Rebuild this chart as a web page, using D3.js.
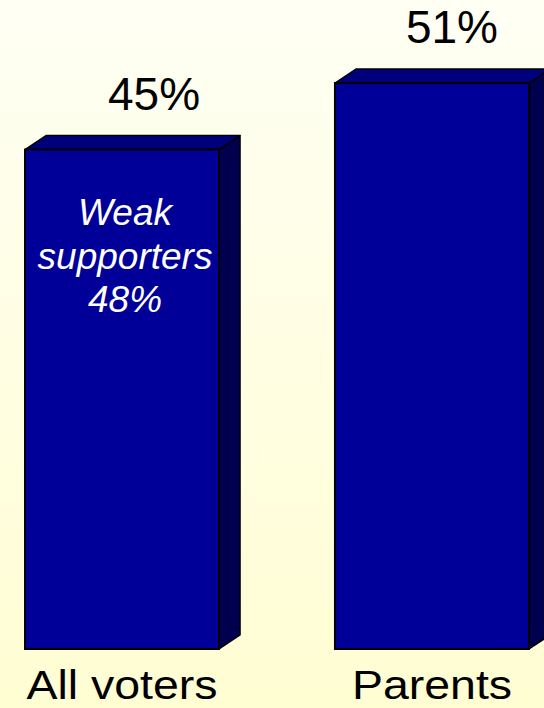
<!DOCTYPE html>
<html>
<head>
<meta charset="utf-8">
<script src="https://cdn.jsdelivr.net/npm/d3@7"></script>
<style>
  html, body { margin: 0; padding: 0; overflow: hidden; }
  svg { display: block; }
  text { font-family: "Liberation Sans", Arial, Helvetica, sans-serif; }
</style>
</head>
<body>
<script>
// Share of each group, in percent
const categories = ["All voters", "Parents"];
const values = [45, 51];
const valueLabels = ["45%", "51%"];
// Note written inside the first bar
const noteLines = ["Weak", "supporters", "48%"];

const W = 544, H = 708;
const svg = d3.select("body").append("svg").attr("width", W).attr("height", H);

// Cream background, lighter towards the top
const defs = svg.append("defs");
const bg = defs.append("linearGradient").attr("id", "bg")
  .attr("x1", 0).attr("y1", 0).attr("x2", 0).attr("y2", 1);
bg.append("stop").attr("offset", "0%").attr("stop-color", "#FFFFF4");
bg.append("stop").attr("offset", "100%").attr("stop-color", "#FFFDD2");
svg.append("rect").attr("width", W).attr("height", H).attr("fill", "url(#bg)");

const x = d3.scaleBand().domain(categories).range([25, 529]).paddingInner(0.374).paddingOuter(0);
const y = d3.scaleLinear().domain([0, 51]).range([649, 83]);

// 3-D depth of each box
const dx = 21, dy = 14;

const bars = svg.append("g").selectAll("g").data(categories).join("g");

bars.each(function (c, i) {
  const g = d3.select(this);
  const x0 = x(c), x1 = x(c) + x.bandwidth();
  const yt = y(values[i]), yb = y(0);
  const pts = a => a.map(p => p.join(",")).join(" ");
  // side face
  g.append("polygon")
    .attr("points", pts([[x1, yt], [x1 + dx, yt - dy], [x1 + dx, yb - dy], [x1, yb]]))
    .attr("fill", "#00004F").attr("stroke", "#000").attr("stroke-width", 1.5)
    .attr("stroke-linejoin", "round");
  // top face
  g.append("polygon")
    .attr("points", pts([[x0, yt], [x0 + dx, yt - dy], [x1 + dx, yt - dy], [x1, yt]]))
    .attr("fill", "#00007C").attr("stroke", "#000").attr("stroke-width", 1.5)
    .attr("stroke-linejoin", "round");
  // front face
  g.append("rect")
    .attr("x", x0).attr("y", yt).attr("width", x1 - x0).attr("height", yb - yt)
    .attr("fill", "#000099").attr("stroke", "#000").attr("stroke-width", 2);
});

// Value labels above the boxes
const labelShift = [32, 20];
svg.append("g").selectAll("text").data(categories).join("text")
  .attr("x", (c, i) => x(c) + x.bandwidth() / 2 + labelShift[i])
  .attr("y", (c, i) => y(values[i]) - 40)
  .attr("text-anchor", "middle")
  .attr("font-size", 46)
  .attr("fill", "#000")
  .text((c, i) => valueLabels[i]);

// Category labels under the boxes (slightly widened type)
svg.append("g").selectAll("g").data(categories).join("g")
  .attr("transform", c => `translate(${x(c) + x.bandwidth() / 2},699) scale(1.12,1)`)
  .append("text")
  .attr("text-anchor", "middle")
  .attr("font-size", 41.5)
  .attr("fill", "#000")
  .text(c => c);

// Italic note inside the first box
const note = svg.append("g");
note.selectAll("text").data(noteLines).join("text")
  .attr("x", x(categories[0]) + x.bandwidth() / 2 + 3)
  .attr("y", (d, i) => 225 + i * 43.5)
  .attr("text-anchor", "middle")
  .attr("font-size", 37)
  .attr("font-style", "italic")
  .attr("fill", "#fff")
  .text(d => d);
</script>
</body>
</html>
